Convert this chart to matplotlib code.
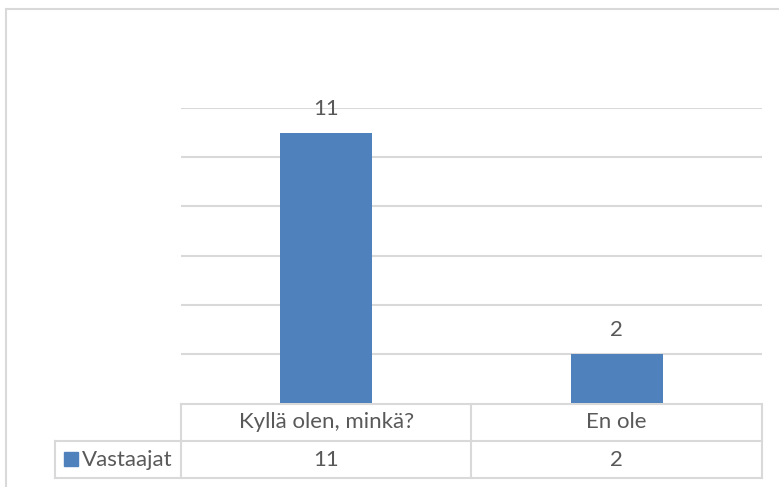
import matplotlib
matplotlib.use("Agg")
import matplotlib.pyplot as plt
from matplotlib.patches import Rectangle

categories = ["Kyllä olen, minkä?", "En ole"]
values = [11, 2]
series_name = "Vastaajat"

W, H = 779, 487
DPI = 100
BAR_COLOR = "#4F81BD"
GRID = "#D9D9D9"
TEXT = "#595959"
FONT = "Lato"
FS = 16

fig = plt.figure(figsize=(W / DPI, H / DPI), dpi=DPI)
fig.patch.set_facecolor("white")

# Overlay in pixel coordinates for the chart frame and data table
ov = fig.add_axes([0, 0, 1, 1])
ov.set_xlim(0, W)
ov.set_ylim(H, 0)
ov.axis("off")

# Plot area (pixels)
px0, px1 = 181, 762
py_top, py_bot = 108, 403

ax = fig.add_axes([px0 / W, 1 - py_bot / H, (px1 - px0) / W, (py_bot - py_top) / H])
ax.set_facecolor("none")
x = list(range(len(categories)))
ax.bar(x, values, width=0.315, color=BAR_COLOR, zorder=3)
ax.set_xlim(-0.5, len(categories) - 0.5)
ax.set_ylim(0, 12)
ax.set_yticks(range(2, 13, 2))
ax.yaxis.grid(True, color=GRID, linewidth=1.5)
ax.set_axisbelow(True)
ax.tick_params(left=False, bottom=False, labelleft=False, labelbottom=False)
for s in ax.spines.values():
    s.set_visible(False)
for xi, v in zip(x, values):
    ax.annotate(str(v), (xi, v), xytext=(0, 10), textcoords="offset points",
                ha="center", va="bottom", fontsize=FS, color=TEXT, family=FONT)

# Outer chart border (top and left edges visible)
ov.plot([6, 6, W + 5], [H + 5, 9, 9], color=GRID, linewidth=1.5, solid_joinstyle="miter")

# Data table below the plot area
t_top, t_mid, t_bot = 404, 441, 478
leg_x = 55
col_w = (px1 - px0) / len(categories)
lw = 1.5
ov.plot([px0, px1], [t_top, t_top], color=GRID, linewidth=lw)
ov.plot([leg_x, px1], [t_mid, t_mid], color=GRID, linewidth=lw)
ov.plot([leg_x, px1], [t_bot, t_bot], color=GRID, linewidth=lw)
ov.plot([leg_x, leg_x], [t_mid, t_bot], color=GRID, linewidth=lw)
for i in range(len(categories) + 1):
    xx = px0 + i * col_w
    ov.plot([xx, xx], [t_top, t_bot], color=GRID, linewidth=lw)

for i, (c, v) in enumerate(zip(categories, values)):
    cx = px0 + (i + 0.5) * col_w
    ov.text(cx, (t_top + t_mid) / 2, c, ha="center", va="center",
            fontsize=FS, color=TEXT, family=FONT)
    ov.text(cx, (t_mid + t_bot) / 2, str(v), ha="center", va="center",
            fontsize=FS, color=TEXT, family=FONT)

ov.add_patch(Rectangle((64, 452), 14, 14, color=BAR_COLOR))
ov.text(82, (t_mid + t_bot) / 2, series_name, ha="left", va="center",
        fontsize=FS, color=TEXT, family=FONT)

fig.savefig("out.png", dpi=DPI, facecolor="white")
